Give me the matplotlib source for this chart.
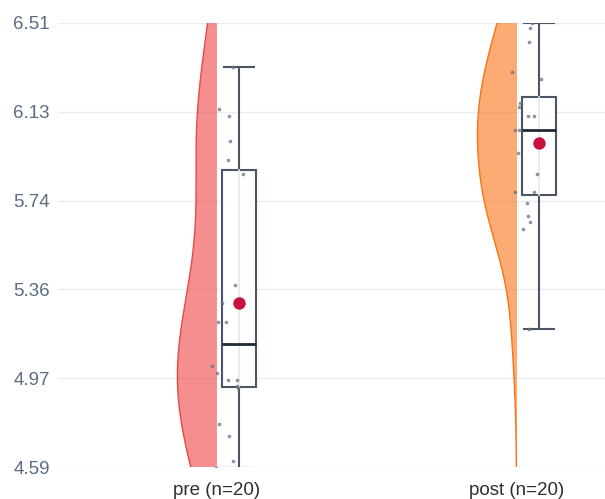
import numpy as np
import matplotlib
matplotlib.use("Agg")
import matplotlib.pyplot as plt

categories = ["pre (n=20)", "post (n=20)"]

pre_values = [6.32, 6.138, 6.108, 6.0, 5.918, 5.857, 5.378, 5.299, 5.218, 5.218,
              5.027, 4.998, 4.966, 4.966, 4.94, 4.93, 4.777, 4.725, 4.617, 4.584]
pre_jitter = [0.055, 0.008, 0.041, 0.046, 0.038, 0.087, 0.062, 0.017, 0.005, 0.032,
              -0.016, 0.002, 0.037, 0.068, 0.070, 0.072, 0.008, 0.041, 0.054, -0.002]

post_values = [6.51, 6.488, 6.429, 6.30, 6.268, 6.163, 6.148, 6.109, 6.109, 6.049,
               6.049, 5.948, 5.858, 5.778, 5.778, 5.73, 5.677, 5.648, 5.618, 5.187]
post_jitter = [0.052, 0.045, 0.042, -0.015, 0.081, 0.012, 0.010, 0.040, 0.057, -0.005,
               0.008, 0.004, 0.067, -0.004, 0.057, 0.036, 0.038, 0.045, 0.023, 0.042]

y_tick_labels = ["4.59", "4.97", "5.36", "5.74", "6.13", "6.51"]

fill_colors = ["#EF4444", "#F97316"]
bandwidths = [0.34, 0.23]

series = [pre_values, post_values]
jitters = [pre_jitter, post_jitter]

W, H = 605, 499
fig = plt.figure(figsize=(W / 100, H / 100), dpi=100)
ax = fig.add_axes([58 / W, 32 / H, (W - 58) / W, 444 / H])

ymin, ymax = 4.59, 6.51
ax.set_ylim(ymin, ymax)
ax.set_xlim(-0.528, 1.295)

for s in ax.spines.values():
    s.set_visible(False)

ticks = np.linspace(ymin, ymax, len(y_tick_labels))
ax.set_yticks(ticks)
ax.set_yticklabels(y_tick_labels)
ax.yaxis.grid(True, color="#E9EDF3", linewidth=1.0, zorder=0)
ax.set_axisbelow(True)
ax.tick_params(axis="y", length=0, pad=6, labelsize=13.5, labelcolor="#5B6B84")
ax.tick_params(axis="x", length=0, pad=11, labelsize=13.5, labelcolor="#2A2F36")
for lab in ax.get_yticklabels() + ax.get_xticklabels():
    lab.set_fontfamily("Liberation Sans")

positions = np.arange(len(categories))
ax.set_xticks(positions)
ax.set_xticklabels(categories)

violin_w = 0.13
box_off = 0.074
box_w = 0.113
yy = np.linspace(ymin, ymax, 400)

for i, vals in enumerate(series):
    v = np.asarray(vals)
    q1, q3 = np.percentile(v, [25, 75])
    bw = bandwidths[i]
    dens = np.exp(-0.5 * ((yy[:, None] - v[None, :]) / bw) ** 2).sum(axis=1)
    dens = dens / dens.max() * violin_w
    pos = positions[i]
    ax.fill_betweenx(yy, pos - dens, pos, facecolor=fill_colors[i], alpha=0.6,
                     edgecolor="none", zorder=2)
    ax.plot(pos - dens, yy, color=fill_colors[i], lw=1.0, zorder=2.1)
    ax.plot([pos, pos], [ymin, ymax], color=fill_colors[i], lw=0.6, alpha=0.5, zorder=2.1)

    bp = ax.boxplot(v, positions=[pos + box_off], widths=box_w, patch_artist=True,
                    showfliers=False, whis=1.5, manage_ticks=False, zorder=3,
                    boxprops=dict(facecolor=(1, 1, 1, 0.85), edgecolor="#4B5563", linewidth=1.5),
                    whiskerprops=dict(color="#4B5563", linewidth=1.5),
                    capprops=dict(color="#4B5563", linewidth=1.5),
                    medianprops=dict(color="#1F2937", linewidth=2.0))
    for c in bp["caps"]:
        xd = c.get_xdata()
        cx = (xd[0] + xd[1]) / 2
        c.set_xdata([cx - 0.05, cx + 0.05])
    ax.plot([pos + box_off, pos + box_off], [q1, q3], color="#E5E7EB", lw=1.2, zorder=3.05)

    ax.scatter(pos + np.asarray(jitters[i]), v, s=7, color="#6B7280", alpha=0.75,
               linewidths=0, zorder=4)
    ax.scatter([pos + box_off], [v.mean()], s=80, color="#C8103E", zorder=5, linewidths=0)

fig.savefig("out.png", dpi=100)
